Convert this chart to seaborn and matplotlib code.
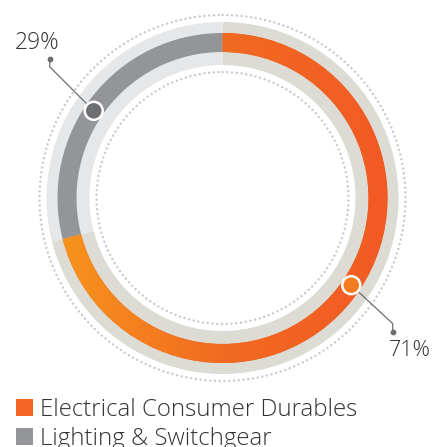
import numpy as np
import matplotlib
matplotlib.use("Agg")
import matplotlib.pyplot as plt
import seaborn as sns
from matplotlib.patches import Circle, Patch
from matplotlib.colors import LinearSegmentedColormap

# ---- data ----
categories = ["Electrical Consumer Durables", "Lighting & Switchgear"]
shares = [71, 29]
share_labels = ["71%", "29%"]

# ---- style ----
sns.set_theme(style="white")
plt.rcParams['font.family'] = ['Open Sans', 'DejaVu Sans']

ring_colors = ["#f26522", "#939598"]
track_colors = ["#dcdbd4", "#e6e7e8"]
marker_colors = ["#f47b20", "#6d6e71"]
line_color = "#6d6e71"
dot_color = "#c9cacc"
text_color = "#333333"

fig = plt.figure(figsize=(4.32, 4.47), dpi=100)
ax = fig.add_axes([0, 0, 1, 1])
W, H = 432, 447
cx, cy = 222.5, 198.0

# background track
ax.pie(shares, colors=track_colors, radius=176, center=(cx, cy), startangle=-90,
       counterclock=True, wedgeprops=dict(width=43, linewidth=0))
# main ring
wedges, _ = ax.pie(shares, colors=ring_colors, radius=165, center=(cx, cy), startangle=-90,
                   counterclock=True, wedgeprops=dict(width=19, linewidth=0))

# orange gradient fill clipped to first wedge
cmap = LinearSegmentedColormap.from_list("og", ["#f7941d", "#f26a21", "#f15a24"])
grad = np.linspace(0, 1, 256).reshape(1, -1)
im = ax.imshow(grad, extent=(cx - 166, cx + 166, cy + 166, cy - 166), cmap=cmap,
               aspect='auto', zorder=wedges[0].get_zorder() + 0.1)
im.set_clip_path(wedges[0])

# dotted guide circles
for r in (183, 126):
    c = Circle((cx, cy), r, fill=False, ec=dot_color, lw=1.8, ls=(0, (0.01, 1.9)))
    c.set_capstyle('round')
    ax.add_patch(c)

# markers, leader lines, labels
total = sum(shares)
cum = np.cumsum([0] + shares)
r_mid = 155.5
leader_offsets = [((41.5, 38.5), (41.5, 46.5)), ((-44.0, -44.0), (-44.0, -52.0))]
label_pos = [(389, 351), (15, 43)]
label_sizes = [15.5, 16.5]
for i, v in enumerate(shares):
    ang = np.deg2rad((cum[i] + v / 2) / total * 360 - 3.7)  # clockwise from top
    mx = cx + r_mid * np.sin(ang)
    my = cy - r_mid * np.cos(ang)
    (ox1, oy1), (ox2, oy2) = leader_offsets[i]
    ax.plot([mx, mx + ox1, mx + ox2], [my, my + oy1, my + oy2], color=line_color,
            lw=0.9, zorder=5, solid_capstyle='butt')
    ax.plot([mx + ox2], [my + oy2], 'o', color=line_color, ms=4.2, mec='none', zorder=6)
    ax.add_patch(Circle((mx, my), 9.0, fc=marker_colors[i], ec='white', lw=1.8, zorder=7))
    lx, ly = label_pos[i]
    ax.text(lx, ly, share_labels[i], fontsize=label_sizes[i], fontweight='light',
            color=text_color, ha='left', va='center', zorder=8)

# legend
handles = [Patch(facecolor=c, edgecolor='none') for c in ["#f26522", "#939598"]]
ax.legend(handles, categories, loc='upper left', bbox_to_anchor=(16, 398),
          bbox_transform=ax.transData, frameon=False,
          handlelength=0.72, handleheight=0.72, handletextpad=0.28,
          labelspacing=0.2, borderpad=0, borderaxespad=0,
          prop={'weight': 'light', 'size': 17.3}, labelcolor=text_color)

ax.set_xlim(0, W)
ax.set_ylim(H, 0)
ax.set_aspect('auto')
ax.axis('off')

fig.savefig("out.png", dpi=100)
